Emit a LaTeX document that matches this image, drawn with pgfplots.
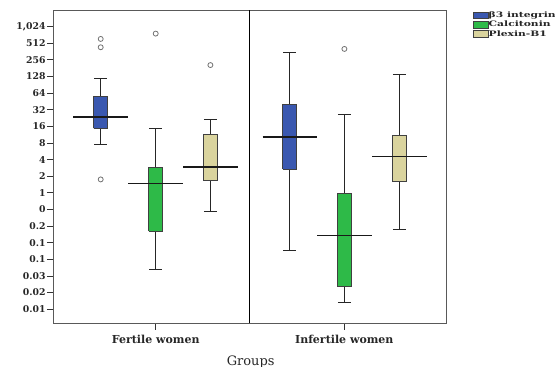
\documentclass[border=0pt]{standalone}
\usepackage{pgfplots}
\pgfplotsset{compat=1.18}
\usepackage{fontspec}
\setmainfont{DejaVu Serif}
\newfontfamily\legfont[FakeStretch=1.43]{DejaVu Serif}
\definecolor{cblue}{RGB}{58,88,176}
\definecolor{cgreen}{RGB}{46,186,72}
\definecolor{ctan}{RGB}{218,212,158}
% #1 position, #2 lower whisker, #3 lower quartile, #4 median, #5 upper quartile, #6 upper whisker, #7 colour
\newcommand\bx[7]{%
  \pgfmathsetmacro\bxL{#1-7}\pgfmathsetmacro\bxR{#1+7}%
  \pgfmathsetmacro\capL{#1-6.5}\pgfmathsetmacro\capR{#1+6.5}%
  \pgfmathsetmacro\medL{#1-27.3}\pgfmathsetmacro\medR{#1+27.3}%
  \addplot[forget plot, no marks, black!85, line width=1pt] coordinates {(#1,#2) (#1,#3)};
  \addplot[forget plot, no marks, black!85, line width=1pt] coordinates {(#1,#5) (#1,#6)};
  \addplot[forget plot, no marks, black!85, line width=1pt] coordinates {(\capL,#2) (\capR,#2)};
  \addplot[forget plot, no marks, black!85, line width=1pt] coordinates {(\capL,#6) (\capR,#6)};
  \addplot[forget plot, no marks, draw=black!75, fill=#7, line width=0.8pt] coordinates {(\bxL,#3) (\bxR,#3) (\bxR,#5) (\bxL,#5) (\bxL,#3)};
  \addplot[forget plot, no marks, black!90, line width=1.6pt] coordinates {(\medL,#4) (\medR,#4)};
}
\begin{document}
\begin{tikzpicture}[x=1pt,y=1pt]
\begin{axis}[
  at={(0pt,0pt)}, anchor=south west,
  scale only axis, width=392.7pt, height=313.3pt,
  xmin=53.3, xmax=446,
  ymode=log, log basis y=2,
  ymin=0.004334, ymax=2048,
  ytick={0.0078125,0.015625,0.03125,0.0625,0.125,0.25,0.5,1,2,4,8,16,32,64,128,256,512,1024},
  yticklabels={0.01,0.02,0.03,0.1,0.1,0.2,0,1,2,4,8,16,32,64,128,256,512,{1,024}},
  xtick={155.7,344.3},
  xticklabels={Fertile women,Infertile women},
  tick align=outside, tick pos=left,
  major tick length=6.5pt,
  tick style={black!80, line width=0.8pt},
  axis line style={gray!70!black, line width=1pt},
  yticklabel style={font=\bfseries\fontsize{9.3}{10}\selectfont, inner sep=1pt, text=black!85},
  xticklabel style={font=\bfseries\fontsize{11}{12}\selectfont, yshift=-2pt, text=black!85},
  xlabel={Groups},
  xlabel style={font=\fontsize{13}{14}\selectfont, at={(axis description cs:0.5027,0)}, anchor=center, yshift=-38.5pt, text=black!85},
  legend style={font=\legfont\bfseries\fontsize{7.5}{8}\selectfont, draw=none, fill=none, inner sep=0pt, row sep=0.6pt,
    at={(1.068,0.998)}, anchor=north west, nodes={inner sep=0.8pt}, text=black!85},
  legend cell align=left,
  legend image code/.code={\draw[#1] (0pt,-3.4pt) rectangle (14.6pt,3.4pt);},
  mark size=2.5pt,
]
\addlegendimage{fill=cblue, draw=black!75}
\addlegendentry{β3 integrin}
\addlegendimage{fill=cgreen, draw=black!75}
\addlegendentry{Calcitonin}
\addlegendimage{fill=ctan, draw=black!75}
\addlegendentry{Plexin-B1}

\addplot[black, line width=1.5pt, forget plot, no marks] coordinates {(249.6,0.004334) (249.6,2048)};

% Fertile women
\bx{100.7}{7.62}{14.7}{23.9}{56.1}{117}{cblue}
\bx{155.7}{0.0412}{0.204}{1.48}{2.83}{14.7}{cgreen}
\bx{210.4}{0.467}{1.65}{2.93}{11.2}{21.7}{ctan}
% Infertile women
\bx{289.8}{0.0915}{2.66}{10.3}{40.2}{352}{cblue}
\bx{344.4}{0.0103}{0.0203}{0.168}{0.959}{26.7}{cgreen}
\bx{399.3}{0.218}{1.62}{4.56}{11.0}{138}{ctan}

% outliers
\addplot[forget plot, only marks, mark=o, mark options={draw=gray!90!black, line width=0.8pt}] coordinates {
  (100.7,613) (100.7,433) (100.7,1.75) (155.7,765) (210.4,206) (344.4,404)};
\end{axis}
\pgfresetboundingbox
\path (-53.3pt,-43.7pt) rectangle (501.7pt,323.3pt);
\end{tikzpicture}
\end{document}
